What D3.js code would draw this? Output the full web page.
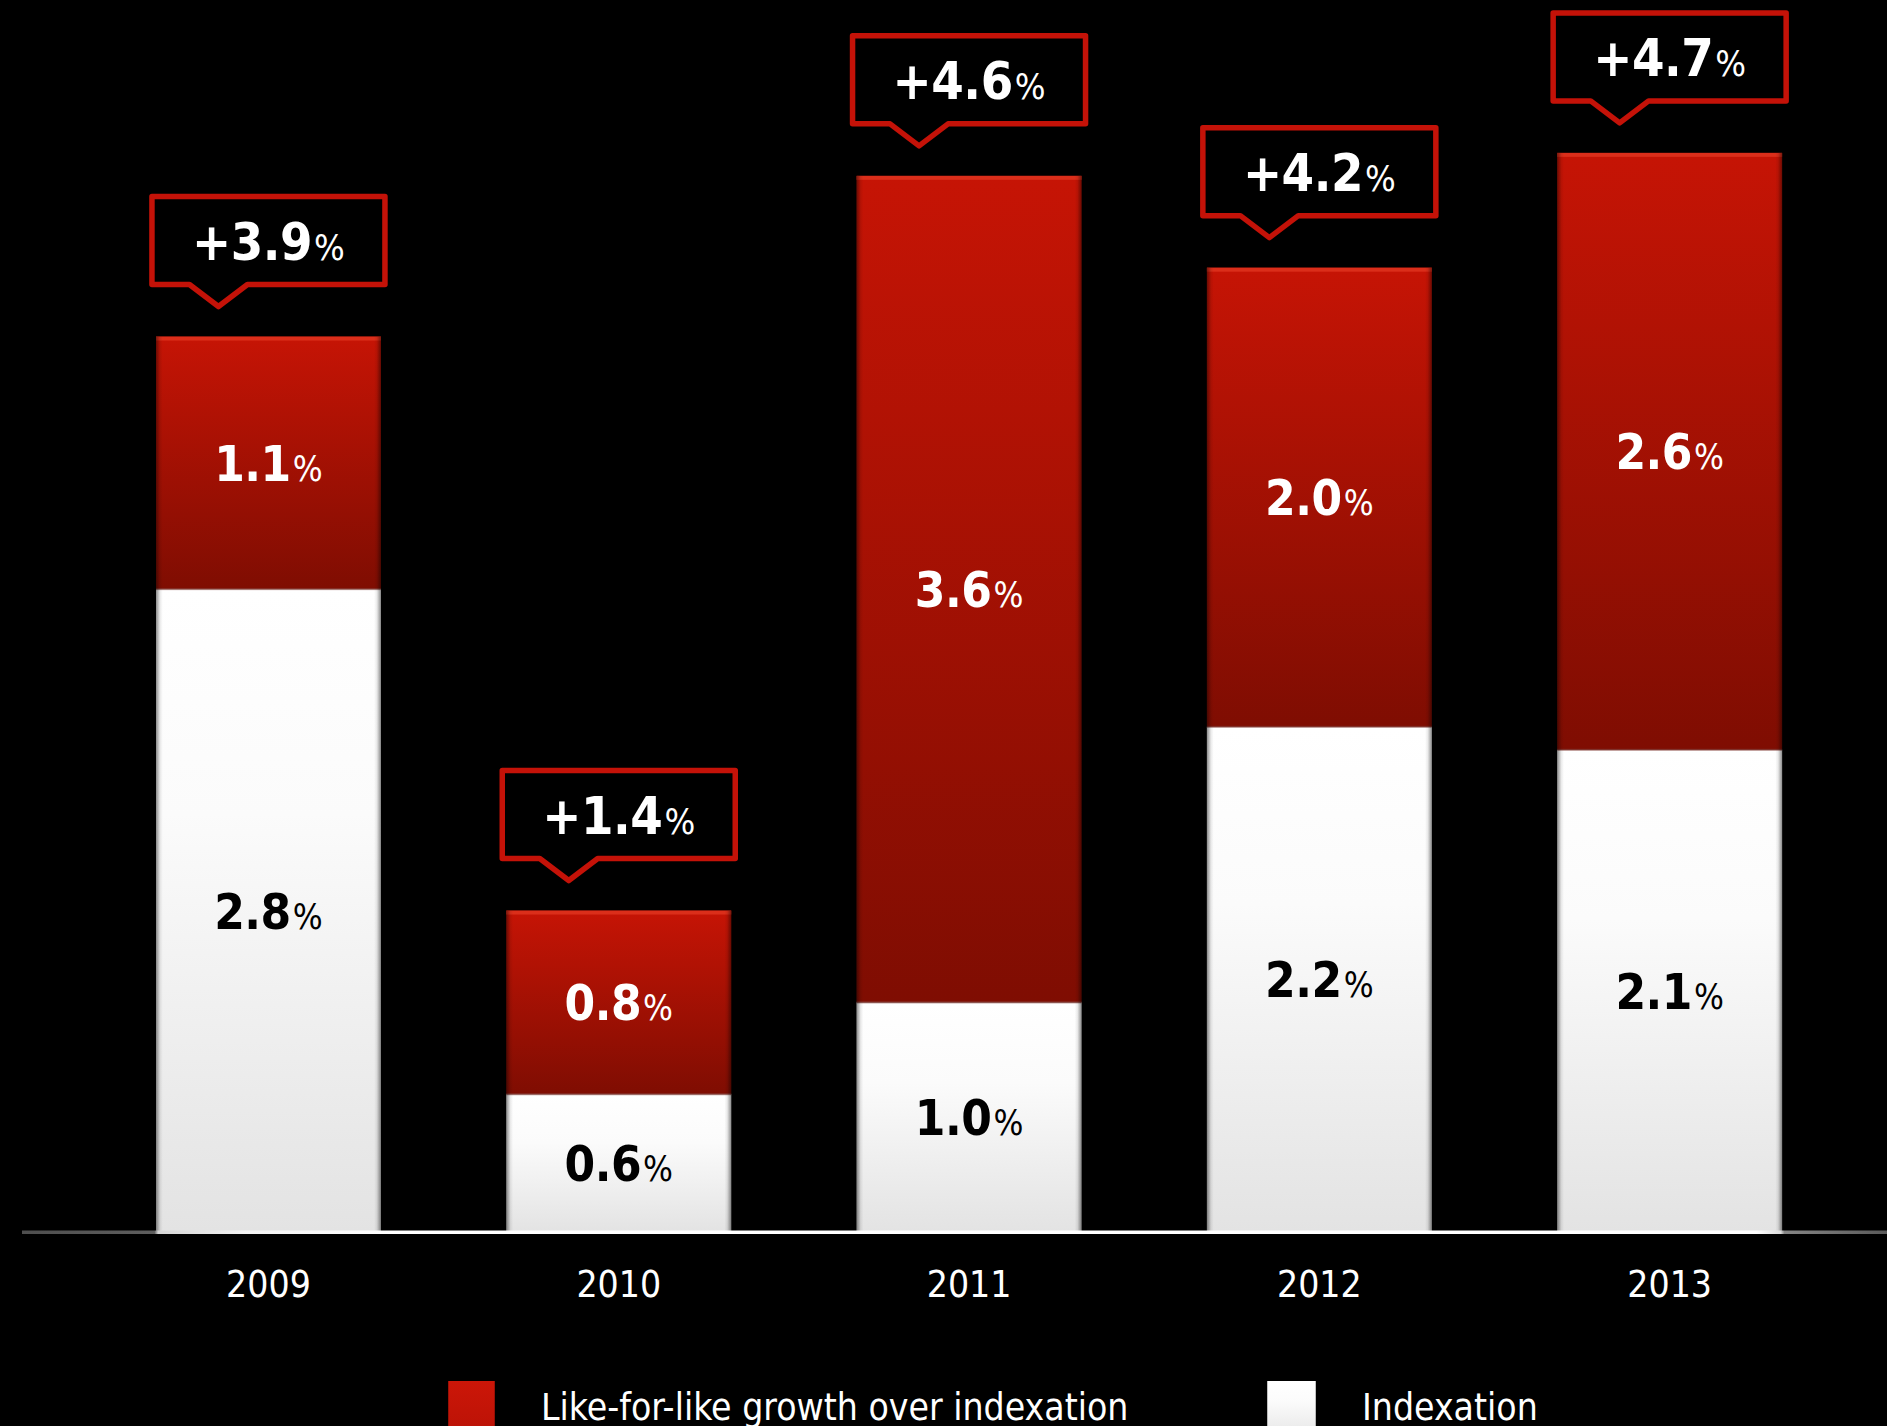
<!DOCTYPE html>
<html>
<head>
<meta charset="utf-8">
<script src="https://cdn.jsdelivr.net/npm/d3@7"></script>
<style>
  html, body { margin: 0; padding: 0; background: #000; }
  svg { display: block; }
  text { font-family: "DejaVu Sans Condensed", "DejaVu Sans", sans-serif; }
</style>
</head>
<body>
<svg id="chart" width="1887" height="1426"></svg>
<script>
// Revenue growth split: indexation vs like-for-like growth over indexation (%)
const years = ["2009", "2010", "2011", "2012", "2013"];
const indexation = [2.8, 0.6, 1.0, 2.2, 2.1];
const lflGrowth = [1.1, 0.8, 3.6, 2.0, 2.6];
const totals = [3.9, 1.4, 4.6, 4.2, 4.7];
const legendLabels = ["Like-for-like growth over indexation", "Indexation"];

const W = 1887, H = 1426;
const baseY = 1232;

const svg = d3.select("#chart");
svg.append("rect").attr("width", W).attr("height", H).attr("fill", "#000");

const x = d3.scaleBand()
  .domain(years)
  .range([93.3, 1844.8])
  .paddingInner(0.358)
  .paddingOuter(0.179);

const y = d3.scaleLinear().domain([0, 5]).range([baseY, baseY - 1148]);

const defs = svg.append("defs");

const redGrad = defs.append("linearGradient").attr("id", "redGrad")
  .attr("x1", 0).attr("y1", 0).attr("x2", 0).attr("y2", 1);
redGrad.append("stop").attr("offset", "0%").attr("stop-color", "#c61405");
redGrad.append("stop").attr("offset", "100%").attr("stop-color", "#7f0d02");

const whiteGrad = defs.append("linearGradient").attr("id", "whiteGrad")
  .attr("x1", 0).attr("y1", 0).attr("x2", 0).attr("y2", 1);
whiteGrad.append("stop").attr("offset", "0%").attr("stop-color", "#ffffff");
whiteGrad.append("stop").attr("offset", "35%").attr("stop-color", "#fbfbfb");
whiteGrad.append("stop").attr("offset", "100%").attr("stop-color", "#e3e3e3");

// soft darkening at the left/right edges of each bar
const edgeGrad = defs.append("linearGradient").attr("id", "edgeGrad")
  .attr("x1", 0).attr("y1", 0).attr("x2", 1).attr("y2", 0);
[[0, 0.45], [0.018, 0.08], [0.03, 0], [0.97, 0], [0.982, 0.08], [1, 0.45]].forEach(([o, a]) => {
  edgeGrad.append("stop").attr("offset", o).attr("stop-color", "#000").attr("stop-opacity", a);
});

const axisGrad = defs.append("linearGradient").attr("id", "axisGrad")
  .attr("gradientUnits", "userSpaceOnUse")
  .attr("x1", 22).attr("y1", 0).attr("x2", W).attr("y2", 0);
[[0, "#4e4e4e"], [0.071, "#5e5e5e"], [0.073, "#d6d6d6"], [0.12, "#f4f4f4"], [0.2, "#ffffff"],
 [0.93, "#ffffff"], [0.943, "#dcdcdc"], [0.945, "#858585"], [1, "#5a5a5a"]].forEach(([o, c]) => {
  axisGrad.append("stop").attr("offset", o).attr("stop-color", c);
});

// stacked segments
const rows = years.map((yr, i) => ({
  year: yr, idx: indexation[i], lfl: lflGrowth[i], total: totals[i]
}));

const bars = svg.append("g").selectAll("g").data(rows).join("g");

// indexation (bottom, white)
bars.append("rect")
  .attr("x", d => x(d.year)).attr("width", x.bandwidth())
  .attr("y", d => y(d.idx)).attr("height", d => y(0) - y(d.idx))
  .attr("fill", "url(#whiteGrad)");

// like-for-like growth (top, red)
bars.append("rect")
  .attr("x", d => x(d.year)).attr("width", x.bandwidth())
  .attr("y", d => y(d.idx + d.lfl)).attr("height", d => y(d.idx) - y(d.idx + d.lfl))
  .attr("fill", "url(#redGrad)");

// bright rim on top of red segments
bars.append("rect")
  .attr("x", d => x(d.year)).attr("width", x.bandwidth())
  .attr("y", d => y(d.idx + d.lfl)).attr("height", 4)
  .attr("fill", "#e0351f").attr("opacity", 0.8);

// faint seam between segments
bars.append("rect")
  .attr("x", d => x(d.year)).attr("width", x.bandwidth())
  .attr("y", d => y(d.idx) - 1).attr("height", 2)
  .attr("fill", "#8a4a44").attr("opacity", 0.6);

// edge shading over the whole stack
bars.append("rect")
  .attr("x", d => x(d.year)).attr("width", x.bandwidth())
  .attr("y", d => y(d.idx + d.lfl)).attr("height", d => y(0) - y(d.idx + d.lfl))
  .attr("fill", "url(#edgeGrad)");

// segment labels
function pctLabel(sel, value, big, small) {
  sel.append("tspan").attr("font-weight", "bold").attr("font-size", big)
    .attr("letter-spacing", -0.5).text(value.toFixed(1));
  sel.append("tspan").attr("font-size", small).attr("dx", 2).text("%");
}

bars.each(function(d) {
  const g = d3.select(this);
  const cx = x(d.year) + x.bandwidth() / 2;
  const redMid = (y(d.idx) + y(d.idx + d.lfl)) / 2;
  const whiteMid = (y(0) + y(d.idx)) / 2;

  g.append("text").attr("x", cx).attr("y", redMid + 18)
    .attr("text-anchor", "middle").attr("fill", "#fff")
    .call(pctLabel, d.lfl, 49, 35);

  g.append("text").attr("x", cx).attr("y", whiteMid + 18)
    .attr("text-anchor", "middle").attr("fill", "#000")
    .call(pctLabel, d.idx, 49, 35);

  // callout with total growth
  const bottom = y(d.idx + d.lfl) - 52;
  const top = bottom - 88;
  const half = 116.5;
  const tipX = cx - 50;
  const path = d3.path();
  path.moveTo(cx - half, top);
  path.lineTo(cx + half, top);
  path.lineTo(cx + half, bottom);
  path.lineTo(tipX + 29, bottom);
  path.lineTo(tipX, bottom + 22);
  path.lineTo(tipX - 29, bottom);
  path.lineTo(cx - half, bottom);
  path.closePath();
  g.append("path").attr("d", path.toString())
    .attr("fill", "#000").attr("stroke", "#c41208")
    .attr("stroke-width", 5.5).attr("stroke-linejoin", "round");

  const t = g.append("text").attr("x", cx).attr("y", (top + bottom) / 2 + 19)
    .attr("text-anchor", "middle").attr("fill", "#fff");
  t.append("tspan").attr("font-weight", "bold").attr("font-size", 52)
    .attr("letter-spacing", -0.5).text("+" + d.total.toFixed(1));
  t.append("tspan").attr("font-size", 36).attr("dx", 2).text("%");
});

// baseline
svg.append("rect")
  .attr("x", 22).attr("y", baseY - 1.5).attr("width", W - 22).attr("height", 3.5)
  .attr("fill", "url(#axisGrad)");

// category axis
const xAxis = svg.append("g")
  .attr("transform", `translate(0,${baseY})`)
  .call(d3.axisBottom(x).tickSize(0).tickPadding(0));
xAxis.select(".domain").remove();
xAxis.selectAll("text")
  .attr("fill", "#fff")
  .attr("font-size", 37)
  .attr("font-family", "\"DejaVu Sans Condensed\", \"DejaVu Sans\", sans-serif")
  .attr("dy", null)
  .attr("y", 65);

// legend
const legendGradR = defs.append("linearGradient").attr("id", "legR")
  .attr("x1", 0).attr("y1", 0).attr("x2", 0).attr("y2", 1);
legendGradR.append("stop").attr("offset", "0%").attr("stop-color", "#cc1608");
legendGradR.append("stop").attr("offset", "100%").attr("stop-color", "#b81206");

const legendItems = [
  { label: legendLabels[0], fill: "url(#legR)", sx: 448, sw: 47, tx: 541 },
  { label: legendLabels[1], fill: "url(#whiteGrad)", sx: 1267, sw: 49, tx: 1362 }
];
const leg = svg.append("g").selectAll("g").data(legendItems).join("g");
leg.append("rect")
  .attr("x", d => d.sx).attr("y", 1381).attr("width", d => d.sw).attr("height", 60)
  .attr("fill", d => d.fill);
leg.append("rect")
  .attr("x", d => d.sx).attr("y", 1381).attr("width", d => d.sw).attr("height", 60)
  .attr("fill", "url(#edgeGrad)");
leg.append("text")
  .attr("x", d => d.tx).attr("y", 1420)
  .attr("fill", "#fff").attr("font-size", 37)
  .text(d => d.label);
</script>
</body>
</html>
